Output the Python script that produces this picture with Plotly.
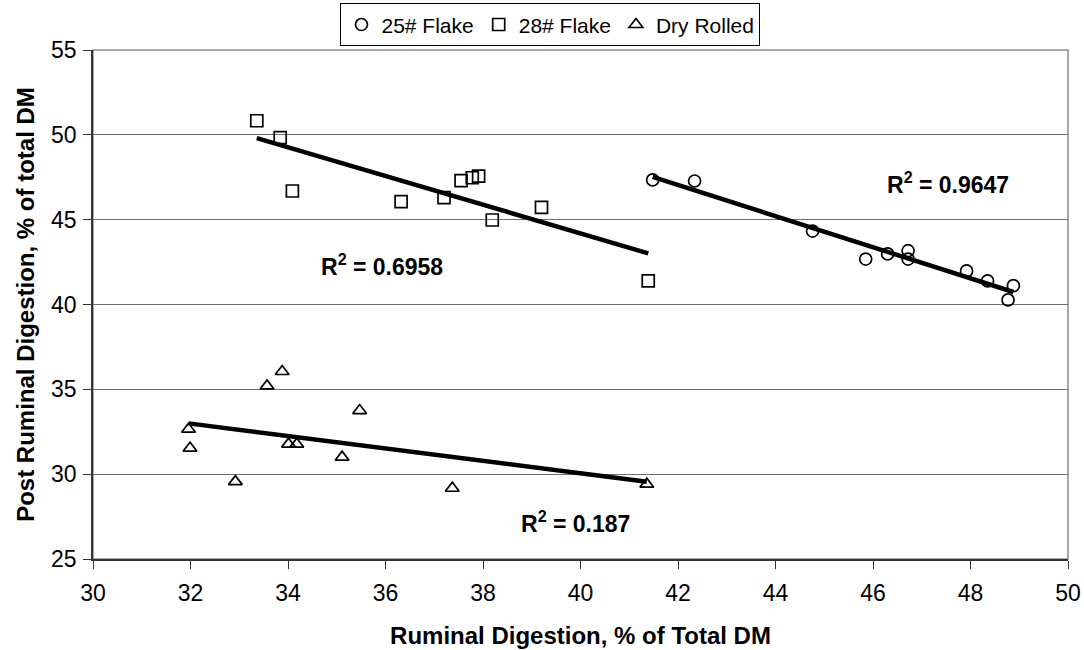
import numpy as np
import plotly.graph_objects as go

# 25# Flake
flake25_x = [41.48, 42.34, 44.76, 45.85, 46.30, 46.72, 46.72, 47.92, 48.35, 48.88, 48.77]
flake25_y = [47.34, 47.28, 44.33, 42.68, 42.98, 43.17, 42.68, 41.98, 41.39, 41.11, 40.27]
flake25_r2 = "0.9647"

# 28# Flake
flake28_x = [33.36, 33.84, 34.09, 36.32, 37.20, 37.55, 37.78, 37.91, 38.19, 39.20, 41.39]
flake28_y = [50.83, 49.83, 46.69, 46.06, 46.30, 47.30, 47.47, 47.57, 44.98, 45.73, 41.39]
flake28_r2 = "0.6958"

# Dry Rolled
dry_x = [33.88, 33.57, 35.47, 31.96, 31.99, 34.01, 34.18, 35.11, 32.92, 37.37, 41.36]
dry_y = [36.05, 35.20, 33.75, 32.65, 31.53, 31.77, 31.77, 31.00, 29.56, 29.17, 29.41]
dry_r2 = "0.187"

x_ticks = [30, 32, 34, 36, 38, 40, 42, 44, 46, 48, 50]
y_ticks = [25, 30, 35, 40, 45, 50, 55]

FONT = "Liberation Sans, Arial, sans-serif"

series = [
    ("25# Flake", flake25_x, flake25_y, "circle-open", flake25_r2, (47.53, 47.16)),
    ("28# Flake", flake28_x, flake28_y, "square-open", flake28_r2, (35.93, 42.33)),
    ("Dry Rolled", dry_x, dry_y, "triangle-up-open", dry_r2, (39.89, 27.19)),
]

fig = go.Figure()

for name, xs, ys, symbol, r2, pos in series:
    fig.add_trace(go.Scatter(
        x=xs, y=ys, mode="markers", name=name,
        marker=dict(symbol=symbol, size=12, color="black",
                    line=dict(color="black", width=1.7)),
    ))

# Linear trend lines for each series
for name, xs, ys, symbol, r2, pos in series:
    xa = np.array(xs)
    slope, intercept = np.polyfit(xa, np.array(ys), 1)
    xline = np.array([xa.min(), xa.max()])
    fig.add_trace(go.Scatter(
        x=xline, y=slope * xline + intercept, mode="lines",
        line=dict(color="black", width=4.5), showlegend=False, hoverinfo="skip",
    ))
    fig.add_annotation(
        x=pos[0], y=pos[1], xref="x", yref="y", showarrow=False,
        text=f"<b>R<sup>2</sup> = {r2}</b>",
        font=dict(family=FONT, size=23, color="black"),
    )

# Plot area frame (top and right edges)
fig.add_shape(type="rect", xref="paper", yref="paper", x0=0, y0=0, x1=1, y1=1,
              line=dict(color="#8c8c8c", width=1.5), layer="below")

fig.update_layout(
    width=1084, height=650,
    margin=dict(l=93, r=16, t=50, b=91, autoexpand=False),
    paper_bgcolor="white", plot_bgcolor="white",
    font=dict(family=FONT, size=22, color="black"),
    showlegend=True,
    legend=dict(
        orientation="h", x=0.469, xanchor="center", y=1.092, yanchor="top",
        bordercolor="black", borderwidth=1.2, bgcolor="white",
        font=dict(family=FONT, size=21, color="black"),
        itemwidth=30, tracegroupgap=0,
    ),
    xaxis=dict(
        range=[30, 50], tickvals=x_ticks, ticktext=[str(v) for v in x_ticks],
        showgrid=False, zeroline=False,
        showline=True, linecolor="#333333", linewidth=1.5,
        ticks="outside", ticklen=8, tickcolor="#333333", tickwidth=1.2,
        tickfont=dict(family=FONT, size=23), ticklabelstandoff=5,
        title=dict(text="<b>Ruminal Digestion, % of Total DM</b>",
                   font=dict(family=FONT, size=24), standoff=22),
    ),
    yaxis=dict(
        range=[25, 55], tickvals=y_ticks, ticktext=[str(v) for v in y_ticks],
        showgrid=True, gridcolor="#6e6e6e", gridwidth=1, zeroline=False,
        showline=True, linecolor="#333333", linewidth=1.5,
        ticks="outside", ticklen=8, tickcolor="#333333", tickwidth=1.2,
        tickfont=dict(family=FONT, size=23), ticklabelstandoff=2,
        title=dict(text="<b>Post Ruminal Digestion, % of total DM</b>",
                   font=dict(family=FONT, size=24), standoff=10),
    ),
)

fig.write_html("out.html")
